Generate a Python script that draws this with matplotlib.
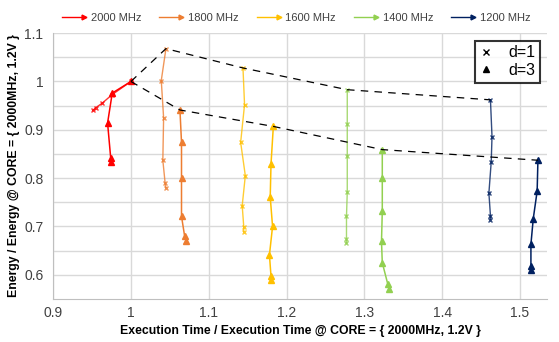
import matplotlib
matplotlib.use('Agg')
import matplotlib.pyplot as plt
from matplotlib.lines import Line2D
from matplotlib.legend_handler import HandlerBase

plt.rcParams['font.family'] = ['Liberation Sans', 'DejaVu Sans']

# frequency series: (time, energy) normalised to 2000MHz @ 1.2V
freqs = ['2000 MHz', '1800 MHz', '1600 MHz', '1400 MHz', '1200 MHz']
colors = ['#FF0000', '#ED7D31', '#FFC000', '#92D050', '#002060']

d1_x = [
    [1.000, 0.976, 0.963, 0.955, 0.951],
    [1.045, 1.039, 1.042, 1.041, 1.044, 1.045],
    [1.144, 1.146, 1.141, 1.147, 1.143, 1.145, 1.145],
    [1.278, 1.278, 1.278, 1.278, 1.277, 1.277, 1.277],
    [1.462, 1.464, 1.463, 1.460, 1.462, 1.462],
]
d1_y = [
    [1.000, 0.973, 0.955, 0.946, 0.940],
    [1.068, 1.002, 0.925, 0.837, 0.789, 0.780],
    [1.028, 0.952, 0.874, 0.805, 0.743, 0.699, 0.689],
    [0.983, 0.911, 0.845, 0.771, 0.721, 0.673, 0.665],
    [0.962, 0.886, 0.834, 0.769, 0.722, 0.714],
]
d3_x = [
    [1.000, 0.976, 0.970, 0.974, 0.974],
    [1.063, 1.065, 1.065, 1.065, 1.069, 1.071],
    [1.183, 1.180, 1.179, 1.182, 1.178, 1.180, 1.180],
    [1.323, 1.323, 1.323, 1.322, 1.323, 1.330, 1.332],
    [1.523, 1.522, 1.517, 1.514, 1.514, 1.514],
]
d3_y = [
    [1.000, 0.976, 0.914, 0.842, 0.834],
    [0.941, 0.874, 0.801, 0.721, 0.680, 0.670],
    [0.907, 0.829, 0.761, 0.700, 0.641, 0.597, 0.589],
    [0.859, 0.801, 0.731, 0.669, 0.625, 0.581, 0.571],
    [0.837, 0.773, 0.716, 0.663, 0.618, 0.610],
]

# frontiers (dashed)
front1_x = [1.000, 1.045, 1.144, 1.278, 1.462]
front1_y = [1.000, 1.068, 1.028, 0.983, 0.962]
front3_x = [1.000, 1.063, 1.183, 1.323, 1.523]
front3_y = [1.000, 0.941, 0.907, 0.859, 0.837]


class ArrowHandler(HandlerBase):
    # legend key: short line with an arrow head at its right end
    def create_artists(self, legend, orig_handle, xdescent, ydescent,
                       width, height, fontsize, trans):
        y = (height - ydescent) / 2
        line = Line2D([-xdescent, width - xdescent], [y, y],
                      color=orig_handle.get_color(), lw=1.0, marker='>',
                      ms=3.5, markevery=[1], transform=trans)
        return [line]


fig = plt.figure(figsize=(5.59, 3.42), dpi=100)
ax = fig.add_axes([0.095, 0.126, 0.884, 0.777])

grid_c = '#D9D9D9'
ax.set_xlim(0.9, 1.535)
ax.set_ylim(0.55, 1.1)
ax.set_xticks([0.9, 1.0, 1.1, 1.2, 1.3, 1.4, 1.5])
ax.set_xticklabels(['0.9', '1', '1.1', '1.2', '1.3', '1.4', '1.5'])
ax.set_yticks([0.6, 0.7, 0.8, 0.9, 1.0, 1.1])
ax.set_yticklabels(['0.6', '0.7', '0.8', '0.9', '1', '1.1'])
ax.set_yticks([0.65, 0.75, 0.85, 0.95, 1.05], minor=True)
ax.grid(True, which='both', color=grid_c, lw=1.0)
ax.set_axisbelow(True)
ax.tick_params(which='both', length=0, labelsize=10, colors='#404040')
ax.tick_params(axis='x', pad=5)
ax.tick_params(axis='y', pad=7)
for s in ['top', 'right']:
    ax.spines[s].set_visible(False)
for s in ['left', 'bottom']:
    ax.spines[s].set_color('#BFBFBF')

ax.plot(front1_x, front1_y, color='black', lw=0.9, ls=(0, (6, 5)), zorder=4)
ax.plot(front3_x, front3_y, color='black', lw=0.9, ls=(0, (6, 5)), zorder=4)

for i in range(len(freqs)):
    ax.plot(d1_x[i], d1_y[i], color=colors[i], lw=1.0, alpha=0.8,
            marker='x', ms=3.5, mew=1.0, zorder=3)
    ax.plot(d3_x[i], d3_y[i], color=colors[i], lw=1.1,
            marker='^', ms=4, zorder=3)

ax.set_xlabel('Execution Time / Execution Time @ CORE = { 2000MHz, 1.2V }',
              fontsize=8.8, fontweight='bold', labelpad=4)
ax.set_ylabel('Energy / Energy @ CORE = { 2000MHz, 1.2V }',
              fontsize=8.8, fontweight='bold', labelpad=3)

# top legend: frequencies
handles = [Line2D([0], [0], color=c) for c in colors]
leg = fig.legend(handles, freqs, loc='center', bbox_to_anchor=(0.53, 0.948),
                 ncol=5, frameon=False, fontsize=8, handlelength=2.0,
                 handletextpad=0.6, columnspacing=1.6,
                 labelcolor='#404040',
                 handler_map={Line2D: ArrowHandler()})

# inner legend: d
dh = [Line2D([0], [0], color='black', ls='none', marker='x', ms=4),
      Line2D([0], [0], color='black', ls='none', marker='^', ms=5)]
leg2 = ax.legend(dh, ['d=1', 'd=3'], loc='upper right',
                 bbox_to_anchor=(0.995, 0.99), fontsize=11.5, frameon=True,
                 fancybox=False, edgecolor='black', handlelength=0.8,
                 handletextpad=1.0, borderpad=0.3, labelspacing=0.15,
                 borderaxespad=0.3)
leg2.get_frame().set_linewidth(1.5)

fig.savefig('out.png', dpi=100)
